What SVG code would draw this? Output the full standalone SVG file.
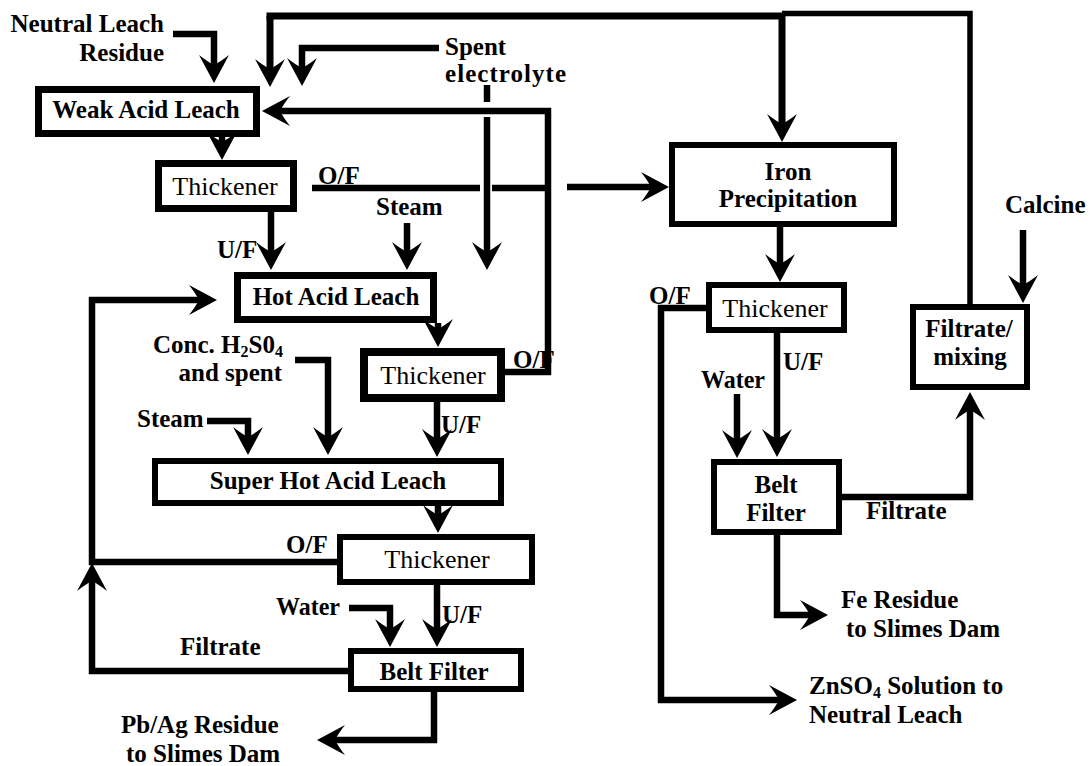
<svg xmlns="http://www.w3.org/2000/svg" width="1090" height="766" viewBox="0 0 1090 766">
<defs>
<style>
.box{fill:#fff;stroke:#000;stroke-width:6}
.b7{stroke-width:7}
.b8{stroke-width:8}
.ln{fill:none;stroke:#000;stroke-width:6.5;stroke-linejoin:miter;stroke-linecap:butt}
.ar{marker-end:url(#ah)}
text{font-family:"Liberation Serif","Times New Roman",serif;fill:#000}
.lb{font-weight:bold;font-size:25px}
.th{font-size:26px}
.mid{text-anchor:middle}
.end{text-anchor:end}
.sub{font-size:16px}
</style>
<marker id="ah" markerUnits="userSpaceOnUse" viewBox="-20 -16 32 32" refX="0" refY="0" markerWidth="32" markerHeight="32" orient="auto" overflow="visible">
<path d="M10,0 L-18,-15 Q-11,-6 -8,0 Q-11,6 -18,15 Z" fill="#000"/>
</marker>
</defs>
<rect width="1090" height="766" fill="#fff"/>

<g id="weak-acid-leach"><rect class="box b7" x="38.5" y="89.5" width="218" height="44"/><text class="lb mid" x="146" y="118">Weak Acid Leach</text></g>
<g id="thickener-1"><rect class="box b7" x="158.5" y="163.5" width="135" height="45"/><text class="th mid" x="225" y="195">Thickener</text></g>
<g id="hot-acid-leach"><rect class="box b7" x="237.5" y="275.5" width="196" height="44"/><text class="lb mid" x="336" y="305">Hot Acid Leach</text></g>
<g id="thickener-2"><rect class="box b8" x="364" y="352" width="137" height="46"/><text class="th mid" x="433" y="384">Thickener</text></g>
<g id="super-hot-acid-leach"><rect class="box" x="155" y="461" width="346" height="42"/><text class="lb mid" x="328" y="489">Super Hot Acid Leach</text></g>
<g id="thickener-3"><rect class="box" x="340" y="537" width="192" height="45"/><text class="th mid" x="437" y="568">Thickener</text></g>
<g id="belt-filter-1"><rect class="box" x="351" y="651" width="170" height="38"/><text class="lb mid" x="434" y="680">Belt Filter</text></g>
<g id="iron-precipitation"><rect class="box" x="672" y="145" width="222" height="79"/><text class="lb mid" x="788" y="180">Iron</text><text class="lb mid" x="788" y="207">Precipitation</text></g>
<g id="thickener-4"><rect class="box" x="709" y="285" width="135" height="45"/><text class="th mid" x="775" y="317">Thickener</text></g>
<g id="filtrate-mixing"><rect class="box" x="913" y="307" width="114" height="80"/><text class="lb mid" x="969" y="337">Filtrate/</text><text class="lb mid" x="970" y="365">mixing</text></g>
<g id="belt-filter-2"><rect class="box" x="714" y="462" width="125" height="70"/><text class="lb mid" x="776" y="493">Belt</text><text class="lb mid" x="776" y="521">Filter</text></g>

<g id="connectors">
<path class="ln ar" d="M173,34 H214 V73"/>
<path class="ln ar" d="M270,16 V77" style="stroke-width:7"/>
<path class="ln ar" d="M266.5,16 H782 V132" style="stroke-width:7"/>
<path class="ln" d="M782,13.5 H970 V305" style="stroke-width:5.5"/>
<path class="ln ar" d="M439,48 H302 V76"/>
<path class="ln" d="M487,85 V102"/>
<path class="ln ar" d="M487,117 V260"/>
<path class="ln ar" d="M505,372 H548 V111 H272"/>
<path class="ln ar" d="M222,137 V150"/>
<path class="ln" d="M312,188 H480"/>
<path class="ln" d="M492,188 H551"/>
<path class="ln ar" d="M567,187 H659"/>
<path class="ln ar" d="M271,212 V260"/>
<path class="ln ar" d="M407,223 V260"/>
<path class="ln ar" d="M337,562 H92 V300 H207"/>
<path class="ln ar" d="M348,671 H92 V573"/>
<path class="ln ar" d="M438,323 V337"/>
<path class="ln ar" d="M295,360 H328 V445"/>
<path class="ln ar" d="M207,421 H248 V445"/>
<path class="ln ar" d="M437,401 V447"/>
<path class="ln ar" d="M438,505 V523"/>
<path class="ln ar" d="M349,608 H390 V637"/>
<path class="ln ar" d="M437,585 V637"/>
<path class="ln ar" d="M434,692 V740 H327"/>
<path class="ln ar" d="M780,227 V272"/>
<path class="ln ar" d="M706,308 H661 V700 H787"/>
<path class="ln ar" d="M1023,230 V293"/>
<path class="ln ar" d="M777,333 V447"/>
<path class="ln ar" d="M737,394 V448"/>
<path class="ln ar" d="M842,497 H970 V402"/>
<path class="ln ar" d="M777,535 V615 H818"/>
</g>

<g id="labels">
<text class="lb end" x="164" y="32">Neutral Leach</text>
<text class="lb end" x="164" y="61">Residue</text>
<text class="lb" x="445" y="55">Spent</text>
<text class="lb" x="445" y="82" textLength="121" lengthAdjust="spacing">electrolyte</text>
<text class="lb" x="318" y="184">O/F</text>
<text class="lb" x="376" y="215">Steam</text>
<text class="lb" x="217" y="258">U/F</text>
<text class="lb" x="153" y="353">Conc. H<tspan class="sub" dy="4">2</tspan><tspan dy="-4">S0</tspan><tspan class="sub" dy="4">4</tspan></text>
<text class="lb end" x="282" y="381">and spent</text>
<text class="lb" x="137" y="427">Steam</text>
<text class="lb" x="441" y="433">U/F</text>
<text class="lb" x="513" y="368">O/F</text>
<text class="lb" x="286" y="553">O/F</text>
<text class="lb" x="276" y="615" textLength="64" lengthAdjust="spacingAndGlyphs">Water</text>
<text class="lb" x="442" y="623">U/F</text>
<text class="lb" x="180" y="655">Filtrate</text>
<text class="lb" x="121" y="733">Pb/Ag Residue</text>
<text class="lb" x="126" y="762">to Slimes Dam</text>
<text class="lb" x="1005" y="213">Calcine</text>
<text class="lb" x="649" y="304">O/F</text>
<text class="lb" x="783" y="370">U/F</text>
<text class="lb" x="701" y="388" textLength="64" lengthAdjust="spacingAndGlyphs">Water</text>
<text class="lb" x="866" y="519">Filtrate</text>
<text class="lb" x="841" y="608">Fe Residue</text>
<text class="lb" x="846" y="637">to Slimes Dam</text>
<text class="lb" x="809" y="694">ZnSO<tspan class="sub" dy="4">4</tspan><tspan dy="-4"> Solution to</tspan></text>
<text class="lb" x="809" y="723">Neutral Leach</text>
</g>
</svg>
